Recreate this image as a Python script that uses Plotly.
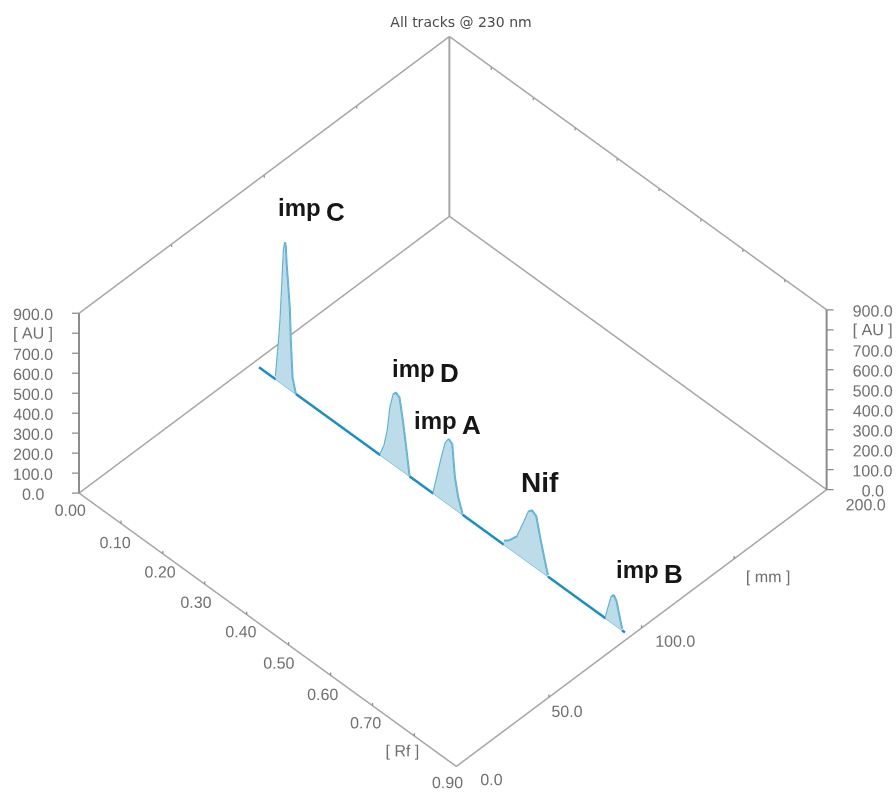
import plotly.graph_objects as go

# ---- Data ----
track_mm = 94.0
baseline_rf = [0.014, 0.887]

rf_impC = [0.054, 0.0615, 0.065, 0.070, 0.073, 0.076, 0.078, 0.080, 0.084, 0.0875, 0.090, 0.094, 0.102]
au_impC = [15, 206, 313, 532, 672, 720, 703, 617, 510, 409, 249, 71, 0]

rf_impD = [0.3034, 0.313, 0.3208, 0.3272, 0.335, 0.3407, 0.3492, 0.3573, 0.3651, 0.373]
au_impD = [5, 63, 150, 275, 354, 370, 358, 254, 134, 5]

rf_impA = [0.430, 0.438, 0.4498, 0.4593, 0.4671, 0.475, 0.4814, 0.4892, 0.4996]
au_impA = [5, 88, 212, 300, 329, 316, 160, 72, 5]

rf_nif = [0.598, 0.610, 0.630, 0.6455, 0.6575, 0.6655, 0.6755, 0.685, 0.6945, 0.7033]
au_nif = [20, 39, 91, 181, 257, 274, 260, 166, 81, 8]

rf_impB = [0.841, 0.8471, 0.8552, 0.8606, 0.8671, 0.8732, 0.8803]
au_impB = [5, 62, 133, 146, 125, 69, 8]

rf_ticks = [0.0, 0.1, 0.2, 0.3, 0.4, 0.5, 0.6, 0.7, 0.8, 0.9]
rf_labels = ["0.00", "0.10", "0.20", "0.30", "0.40", "0.50", "0.60", "0.70", "[ Rf ]", "0.90"]
mm_ticks = [0, 50, 100, 150, 200]
mm_labels = ["0.0", "50.0", "100.0", "[ mm ]", "200.0"]
au_ticks = [0, 100, 200, 300, 400, 500, 600, 700, 800, 900]
au_labels = ["0.0", "100.0", "200.0", "300.0", "400.0", "500.0", "600.0", "700.0", "[ AU ]", "900.0"]

peak_names = ["imp", "imp", "imp", "Nif", "imp"]
peak_subs = ["C", "D", "A", "", "B"]

# Label offsets from their tick, in screen pixels
rf_label_off = [(-9, 17), (-6, 19), (-3, 18), (-9, 18), (-6, 17), (-10, 18), (-8, 19), (-7, 17), (-12, 16), (-9, 16)]
mm_label_off = [(35, 13), (18, 14), (34, 13), (34, 19), (39, 15)]

RF_MAX, MM_MAX, AU_MAX = 0.9, 200, 900
RF_PAD, MM_PAD = 0.15, 40
GREY = "#a6a6a6"
AXIS = "#8c8c8c"
LINE = "#5fb2d3"
BASE = "#1b90c0"
FILL = "#bddcea"
TEXT = "#707070"

# Screen pixels for a full run of each floor axis
RF_VEC = (377.7, 273.7)
MM_VEC = (370.0, -277.7)


def floor_offset(dx, dy):
    """Turn a screen offset in pixels into a (Rf, mm) offset on the floor plane."""
    det = RF_VEC[0] * MM_VEC[1] - MM_VEC[0] * RF_VEC[1]
    f = (dx * MM_VEC[1] - MM_VEC[0] * dy) / det
    g = (RF_VEC[0] * dy - dx * RF_VEC[1]) / det
    return f * RF_MAX, g * MM_MAX


def lines(xs, ys, zs, color, width):
    return go.Scatter3d(x=xs, y=ys, z=zs, mode="lines", line=dict(color=color, width=width), hoverinfo="skip")


def texts(xs, ys, zs, labels, position, size=16):
    return go.Scatter3d(x=xs, y=ys, z=zs, mode="text", text=labels, textposition=position,
                        textfont=dict(family="Liberation Sans", size=size, color=TEXT), hoverinfo="skip")


peaks = [(rf_impC, au_impC), (rf_impD, au_impD), (rf_impA, au_impA), (rf_nif, au_nif), (rf_impB, au_impB)]

fig = go.Figure()

# Peak areas
for rf, au in peaks:
    xs = rf + rf
    zs = [0] * len(rf) + au
    n = len(rf)
    ii, jj, kk = [], [], []
    for p in range(n - 1):
        ii += [p, p]
        jj += [p + 1, n + p + 1]
        kk += [n + p + 1, n + p]
    fig.add_trace(go.Mesh3d(x=xs, y=[track_mm] * len(xs), z=zs, i=ii, j=jj, k=kk, color=FILL,
                            flatshading=True, lighting=dict(ambient=1, diffuse=0, specular=0, fresnel=0),
                            hoverinfo="skip", showscale=False))

# Baseline between peaks and peak outlines
bx, bz = [baseline_rf[0]], [0]
for rf, au in peaks:
    bx += [rf[0], None, rf[-1]]
    bz += [0, None, 0]
bx.append(baseline_rf[1]); bz.append(0)
fig.add_trace(lines(bx, [track_mm if v is not None else None for v in bx], bz, BASE, 5))
for rf, au in peaks:
    fig.add_trace(lines(rf, [track_mm] * len(rf), au, LINE, 4))
    fig.add_trace(lines([rf[0], rf[-1]], [track_mm] * 2, [0, 0], "#7fc0da", 2.5))

# Frame: floor and the two back walls
fig.add_trace(lines([0, 0, RF_MAX, RF_MAX, 0], [0, MM_MAX, MM_MAX, 0, 0], [0, 0, 0, 0, 0], GREY, 3))
fig.add_trace(lines([0, 0], [0, MM_MAX], [AU_MAX, AU_MAX], GREY, 3))
fig.add_trace(lines([0, 0], [MM_MAX, MM_MAX], [0, AU_MAX], GREY, 4))
fig.add_trace(lines([0, RF_MAX], [MM_MAX, MM_MAX], [AU_MAX, AU_MAX], GREY, 3))
fig.add_trace(lines([0, 0], [0, 0], [0, AU_MAX], AXIS, 4))
fig.add_trace(lines([RF_MAX, RF_MAX], [MM_MAX, MM_MAX], [0, AU_MAX], AXIS, 4))

# Height ticks and labels on both sides
ldx, ldy = floor_offset(-7, 0)
rdx, rdy = floor_offset(7, 0)
for z in au_ticks:
    fig.add_trace(lines([0, ldx], [0, ldy], [z, z], AXIS, 2.5))
    fig.add_trace(lines([RF_MAX, RF_MAX + rdx], [MM_MAX, MM_MAX + rdy], [z, z], AXIS, 2.5))
tdx, tdy = floor_offset(-46, 1)
fig.add_trace(texts([tdx] * len(au_ticks), [tdy] * len(au_ticks), au_ticks, au_labels, "middle center"))
tdx, tdy = floor_offset(46, 1)
fig.add_trace(texts([RF_MAX + tdx] * len(au_ticks), [MM_MAX + tdy] * len(au_ticks), au_ticks, au_labels, "middle center"))

# Floor axes: small tick marks (also repeated along the top edges) and labels
for v in rf_ticks[1:-1]:
    fig.add_trace(lines([v, v], [0, 0], [0, 14], AXIS, 2.5))
    fig.add_trace(lines([v, v], [MM_MAX, MM_MAX], [AU_MAX - 14, AU_MAX], AXIS, 2.5))
for v in mm_ticks[1:-1]:
    fig.add_trace(lines([RF_MAX, RF_MAX], [v, v], [0, 14], AXIS, 2.5))
    fig.add_trace(lines([0, 0], [v, v], [AU_MAX - 14, AU_MAX], AXIS, 2.5))

off = [floor_offset(*o) for o in rf_label_off]
fig.add_trace(texts([v + o[0] for v, o in zip(rf_ticks, off)], [o[1] for o in off], [0] * len(rf_ticks),
                    rf_labels, "middle center"))
off = [floor_offset(*o) for o in mm_label_off]
fig.add_trace(texts([RF_MAX + o[0] for o in off], [v + o[1] for v, o in zip(mm_ticks, off)], [0] * len(mm_ticks),
                    mm_labels, "middle center"))

hidden = dict(visible=False, showgrid=False, zeroline=False, showbackground=False, showspikes=False)
RF_SPAN = RF_MAX + 2 * RF_PAD
MM_SPAN = MM_MAX + 2 * MM_PAD

# The eye is measured from the origin, so the view direction is kept apart from the pan
view_dir = (0.7016, -0.7126, 1.0867)
pan = (-0.0087, -0.0087, 0.0205)

fig.update_layout(
    width=896, height=792, showlegend=False, paper_bgcolor="white",
    margin=dict(l=0, r=0, t=0, b=0),
    title=dict(text="All tracks @ 230 nm", x=0.5145, y=0.972, xanchor="center", yanchor="middle",
               font=dict(family="DejaVu Sans", size=14, color="#4a4a4a")),
    scene=dict(
        domain=dict(x=[0, 1], y=[0, 1]),
        xaxis=dict(range=[-RF_PAD, RF_MAX + RF_PAD], **hidden),
        yaxis=dict(range=[-MM_PAD, MM_MAX + MM_PAD], **hidden),
        zaxis=dict(range=[0, AU_MAX], **hidden),
        aspectmode="manual",
        aspectratio=dict(x=1.337 * RF_SPAN / RF_MAX, y=1.333 * MM_SPAN / MM_MAX, z=0.6705),
        camera=dict(projection=dict(type="orthographic"),
                    eye=dict(x=view_dir[0] + pan[0], y=view_dir[1] + pan[1], z=view_dir[2] + pan[2]),
                    center=dict(x=pan[0], y=pan[1], z=pan[2]), up=dict(x=0, y=0, z=1)),
    ),
)

label_pos = [(0.3471, 0.7577), (0.4754, 0.5314), (0.4989, 0.4647), (0.6027, 0.3914), (0.7644, 0.2539)]
for name, sub, (px, py) in zip(peak_names, peak_subs, label_pos):
    text = "<b>" + name + "</b>"
    if sub:
        text += "<sub><b><span style='font-size:26px'>\u2009" + sub + "</span></b></sub>"
    fig.add_annotation(text=text, xref="paper", yref="paper", x=px, y=py, showarrow=False,
                       font=dict(family="Liberation Sans", size=24 if sub else 28, color="#161616"))

fig.write_html("out.html", config={"displayModeBar": False}, post_script="document.body.style.margin='0';")
